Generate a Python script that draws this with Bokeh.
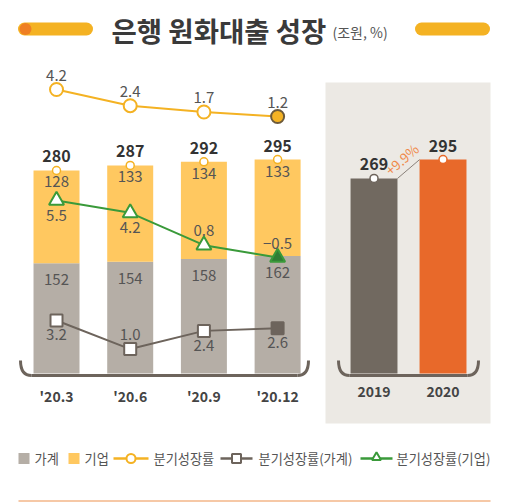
from bokeh.plotting import figure
from bokeh.models import Range1d, ColumnDataSource
from bokeh.core.properties import value
from bokeh.embed import file_html
from bokeh.resources import INLINE

# ---------------- data ----------------
quarters = ["'20.3", "'20.6", "'20.9", "'20.12"]
household = [152, 154, 158, 162]
corporate = [128, 133, 134, 133]
totals = [280, 287, 292, 295]
growth_total = [4.2, 2.4, 1.7, 1.2]
growth_household = [3.2, 1.0, 2.4, 2.6]
growth_corporate = [5.5, 4.2, 0.8, -0.5]
years = ["2019", "2020"]
annual = [269, 295]
annual_growth = "+9.9%"
title = "은행 원화대출 성장"
unit = "(조원, %)"
legend_labels = ["가계", "기업", "분기성장률", "분기성장률(가계)", "분기성장률(기업)"]

FONT = value("Noto Sans CJK KR")
C_HH = "#B5AEA6"
C_CO = "#FFC860"
C_YL = "#F4B223"
C_GR = "#3A9A3A"
C_DG = "#6D645C"
C_2019 = "#716960"
C_2020 = "#E8692A"
C_PANEL = "#ECE9E4"
C_TXT = "#333333"
C_LBL = "#555555"

W, H = 508, 503
p = figure(width=W, height=H, output_backend="svg", toolbar_location=None,
           x_range=Range1d(-0.760, 6.133), y_range=Range1d(-179.31, 514.48),
           min_border=0, outline_line_color=None)
p.axis.visible = False
p.grid.visible = False
p.background_fill_color = "white"
p.border_fill_color = "white"
p.extra_x_ranges = {"px": Range1d(0, 508), "yr": Range1d(-5.413, 1.949)}
p.extra_y_ranges = {"py": Range1d(503, 0), "gt": Range1d(-41.80, 14.09),
                    "gc": Range1d(-26.39, 26.55), "gh": Range1d(-10.877, 27.81)}

PX = dict(x_range_name="px", y_range_name="py")

# ---------- decorations: panel, title ----------
p.quad(left=325, right=490, top=82, bottom=423, fill_color=C_PANEL, line_color=None, **PX)
p.line(x=[24, 86], y=[28.5, 28.5], line_width=13, line_cap="round", line_color=C_YL, **PX)
p.scatter(x=[25], y=[28.5], size=12, fill_color="#EF7F23", line_color=None, **PX)
p.line(x=[421, 483], y=[28.5, 28.5], line_width=13, line_cap="round", line_color=C_YL, **PX)
p.text(x=[111], y=[29], text=[title], text_font=FONT, text_font_size="27.5px",
       text_font_style="bold", text_color="#3A3A3A", text_baseline="middle", **PX)
p.text(x=[332], y=[31], text=[unit], text_font=FONT, text_font_size="14px",
       text_color=C_LBL, text_baseline="middle", **PX)

# ---------- quarterly stacked bars ----------
idx = list(range(len(quarters)))
src = ColumnDataSource(dict(x=idx, hh=household, co=corporate, tot=totals,
                            gt=growth_total, gh=growth_household, gc=growth_corporate,
                            lab=quarters,
                            hh_s=[str(v) for v in household],
                            co_s=[str(v) for v in corporate],
                            tot_s=[str(v) for v in totals],
                            gt_s=[f"{v:.1f}" for v in growth_total],
                            gh_s=[f"{v:.1f}" for v in growth_household],
                            gc_s=[f"{v:.1f}".replace("-", "−") for v in growth_corporate]))
BW = 0.624
p.vbar(x="x", bottom=0, top="hh", width=BW, fill_color=C_HH, line_color=None, source=src)
p.vbar(x="x", bottom="hh", top="tot", width=BW, fill_color=C_CO, line_color=None, source=src)
p.scatter(x="x", y="tot", size=8, fill_color="white", line_color=C_YL, line_width=1.5, source=src)

p.text(x="x", y="tot", text="tot_s", source=src, text_font=FONT, text_font_size="16px",
       text_font_style="bold", text_color=C_TXT, text_align="center",
       text_baseline="bottom", y_offset=-8)
p.text(x="x", y="tot", text="co_s", source=src, text_font=FONT, text_font_size="15px",
       text_color=C_LBL, text_align="center", text_baseline="top", y_offset=6)
p.text(x="x", y="hh", text="hh_s", source=src, text_font=FONT, text_font_size="15px",
       text_color=C_LBL, text_align="center", text_baseline="top", y_offset=11)

# quarter labels
p.text(x="x", y=0, text="lab", source=src, text_font=FONT, text_font_size="14px",
       text_font_style="bold", text_color="#444444", text_align="center",
       text_baseline="top", y_offset=13)

# ---------- growth lines ----------
last_fill = lambda c: ["white"] * (len(quarters) - 1) + [c]
src.data["f_yl"] = last_fill(C_YL)
src.data["l_yl"] = [C_YL] * (len(quarters) - 1) + ["#6D5A3A"]
src.data["f_dg"] = last_fill(C_DG)
src.data["f_gr"] = last_fill("#2F7D35")

p.line(x="x", y="gt", y_range_name="gt", line_color=C_YL, line_width=2, source=src)
p.scatter(x="x", y="gt", y_range_name="gt", size=13, fill_color="f_yl", line_color="l_yl",
          line_width=2, source=src)
p.text(x="x", y="gt", y_range_name="gt", text="gt_s", source=src, text_font=FONT,
       text_font_size="15px", text_color=C_LBL, text_align="center",
       text_baseline="bottom", y_offset=-9)

p.line(x="x", y="gc", y_range_name="gc", line_color=C_GR, line_width=2, source=src)
p.scatter(x="x", y="gc", y_range_name="gc", marker="triangle", size=15, fill_color="f_gr",
          line_color=C_GR, line_width=2, source=src)
src.data["gc_off"] = [9, 9, -9, -9]
src.data["gc_base"] = ["top", "top", "bottom", "bottom"]
p.text(x="x", y="gc", y_range_name="gc", text="gc_s", source=src, text_font=FONT,
       text_font_size="15px", text_color=C_LBL, text_align="center",
       text_baseline="gc_base", y_offset="gc_off")

p.line(x="x", y="gh", y_range_name="gh", line_color=C_DG, line_width=2, source=src)
p.scatter(x="x", y="gh", y_range_name="gh", marker="square", size=12, fill_color="f_dg",
          line_color=C_DG, line_width=2, source=src)
src.data["gh_off"] = [9, -9, 9, 9]
src.data["gh_base"] = ["top", "bottom", "top", "top"]
p.text(x="x", y="gh", y_range_name="gh", text="gh_s", source=src, text_font=FONT,
       text_font_size="15px", text_color=C_LBL, text_align="center",
       text_baseline="gh_base", y_offset="gh_off")

# brackets
def bracket(x0, x1):
    p.quadratic(x0=[x0], y0=[360], x1=[x0 + 11], y1=[375], cx=[x0], cy=[375],
                line_color=C_DG, line_width=3, **PX)
    p.line(x=[x0 + 11, x1 - 11], y=[375, 375], line_color=C_DG, line_width=3, **PX)
    p.quadratic(x0=[x1 - 11], y0=[375], x1=[x1], y1=[360], cx=[x1], cy=[375],
                line_color=C_DG, line_width=3, **PX)
bracket(20, 308)
bracket(338, 478)

# ---------- annual bars ----------
ysrc = ColumnDataSource(dict(x=[0, 1], v=annual, lab=years, s=[str(v) for v in annual],
                             c=[C_2019, C_2020], oc=[C_DG, C_2020]))
YW = 0.68
p.vbar(x="x", bottom=0, top="v", width=YW, fill_color="c", line_color=None,
       x_range_name="yr", source=ysrc)
p.segment(x0=[YW / 2], y0=[annual[0]], x1=[1 - YW / 2], y1=[annual[1]],
          line_color="#8A817A", line_width=1, x_range_name="yr")
p.scatter(x="x", y="v", size=8, fill_color="white", line_color="oc", line_width=1.5,
          x_range_name="yr", source=ysrc)
p.text(x="x", y="v", text="s", source=ysrc, x_range_name="yr", text_font=FONT,
       text_font_size="16px", text_font_style="bold", text_color=C_TXT,
       text_align="center", text_baseline="bottom", y_offset=-8)
p.text(x="x", y=0, text="lab", source=ysrc, x_range_name="yr", text_font=FONT,
       text_font_size="14px", text_font_style="bold", text_color="#444444",
       text_align="center", text_baseline="top", y_offset=13)
p.text(x=[0.5], y=[(annual[0] + annual[1]) / 2], text=[annual_growth], x_range_name="yr",
       text_font=FONT, text_font_size="13.5px", text_color="#F0894A", angle=0.72,
       text_align="center", text_baseline="middle", x_offset=-7, y_offset=-10)

# ---------- legend ----------
LY = 458
p.quad(left=18, right=29, top=LY - 5.5, bottom=LY + 5.5, fill_color=C_HH, line_color=None, **PX)
p.quad(left=68, right=79, top=LY - 5.5, bottom=LY + 5.5, fill_color=C_CO, line_color=None, **PX)
p.line(x=[113, 148], y=[LY, LY], line_color=C_YL, line_width=2.5, **PX)
p.scatter(x=[130.5], y=[LY], size=9, fill_color="white", line_color=C_YL, line_width=2, **PX)
p.line(x=[220, 252], y=[LY, LY], line_color=C_DG, line_width=2.5, **PX)
p.scatter(x=[236], y=[LY], marker="square", size=9, fill_color="white", line_color=C_DG,
          line_width=2, **PX)
p.line(x=[360, 392], y=[LY, LY], line_color=C_GR, line_width=2.5, **PX)
p.scatter(x=[376], y=[LY - 1], marker="triangle", size=9, fill_color="white",
          line_color=C_GR, line_width=2, **PX)
p.text(x=[34, 84, 153, 258, 396], y=[LY] * 5, text=legend_labels, text_font=FONT,
       text_font_size="13.2px", text_color=C_LBL, text_baseline="middle", **PX)

# bottom rule
p.line(x=[18, 490], y=[500.5, 500.5], line_color="#F6C8A6", line_width=2, **PX)

open("out.html", "w").write(file_html(p, INLINE))
